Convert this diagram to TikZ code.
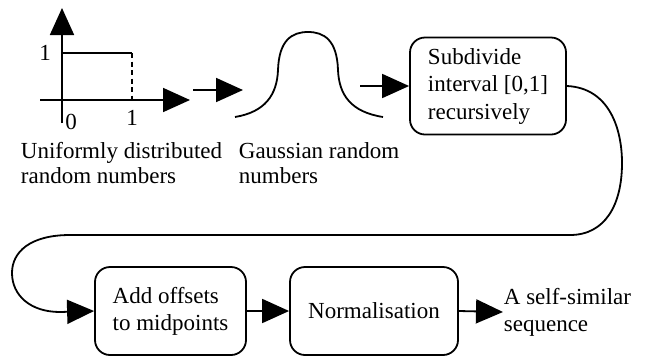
\documentclass[tikz,border=0pt]{standalone}
\usepackage{fontspec}
\setmainfont{Liberation Serif}
\usetikzlibrary{arrows.meta}
\begin{document}
\begin{tikzpicture}[x=1pt,y=-1pt,
  line width=1.8pt,
  tip/.style={-{Triangle[length=27pt,width=24pt]}},
  procbox/.style={draw,rounded corners=15pt,inner sep=0pt},
  lbl/.style={inner sep=0pt,align=left,font=\fontsize{23}{25}\selectfont},
  num/.style={inner sep=0pt,font=\fontsize{23}{25}\selectfont}]
\useasboundingbox (0,0) rectangle (647,360);
% uniform distribution plot
\coordinate (ybot) at (62,123);
\coordinate (ytop) at (62,8);
\coordinate (xl) at (40,100);
\coordinate (xr) at (190,100);
\coordinate (r0) at (62,53);
\coordinate (r1) at (132,53);
\coordinate (r2) at (132,100);
\draw[tip] (ybot) -- (ytop);
\draw[tip] (xl) -- (xr);
\draw (r0) -- (r1);
\draw[dash pattern=on 5pt off 3.5pt] (r1) -- (r2);
\node[num] (one) at (45,53) {1};
\node[num] (zero) at (71,122) {0};
\node[num] (onex) at (132,118) {1};
\node[lbl,anchor=base west] (ulbl) at (20,183) {Uniformly distributed\\random numbers};
% gaussian
\draw (235,117) .. controls (265,112) and (277,95) .. (278,70)
  .. controls (279,40) and (292,32) .. (308,32)
  .. controls (324,32) and (337,40) .. (338,70)
  .. controls (339,95) and (351,112) .. (383,117);
\node[lbl,anchor=base west] (glbl) at (238,183) {Gaussian random\\numbers};
% boxes
\node[procbox,minimum width=156pt,minimum height=97pt,align=left,
  font=\fontsize{23}{27.5}\selectfont] (box1) at (488,86) {Subdivide\\interval [0,1]\\recursively};
\node[procbox,minimum width=151pt,minimum height=88pt,align=left,
  font=\fontsize{23}{27}\selectfont] (box2) at (170.5,311) {Add offsets\\to midpoints};
\node[procbox,minimum width=168pt,minimum height=88pt,align=center,
  font=\fontsize{23}{27}\selectfont] (box3) at (374,311) {Normalisation};
\node[lbl,anchor=west,font=\fontsize{23}{27}\selectfont] (out) at (503,312) {A self-similar\\sequence};
% connectors
\coordinate (uout) at (193,90);
\coordinate (gin) at (243,90);
\coordinate (gout) at (360,86);
\draw[tip] (uout) -- (gin);
\draw[tip] (gout) -- (box1.west);
\draw[tip] (box1.east) .. controls (610,88) and (622,130) .. (622,163)
  .. controls (622,205) and (605,235) .. (570,235) -- (70,235)
  .. controls (30,235) and (12,252) .. (12,273)
  .. controls (12,295) and (30,312) .. (60,312) -- (box2.west);
\draw[tip] (box2.east) -- (box3.west);
\draw[tip] (box3.east) -- (out.west);
\end{tikzpicture}
\end{document}
